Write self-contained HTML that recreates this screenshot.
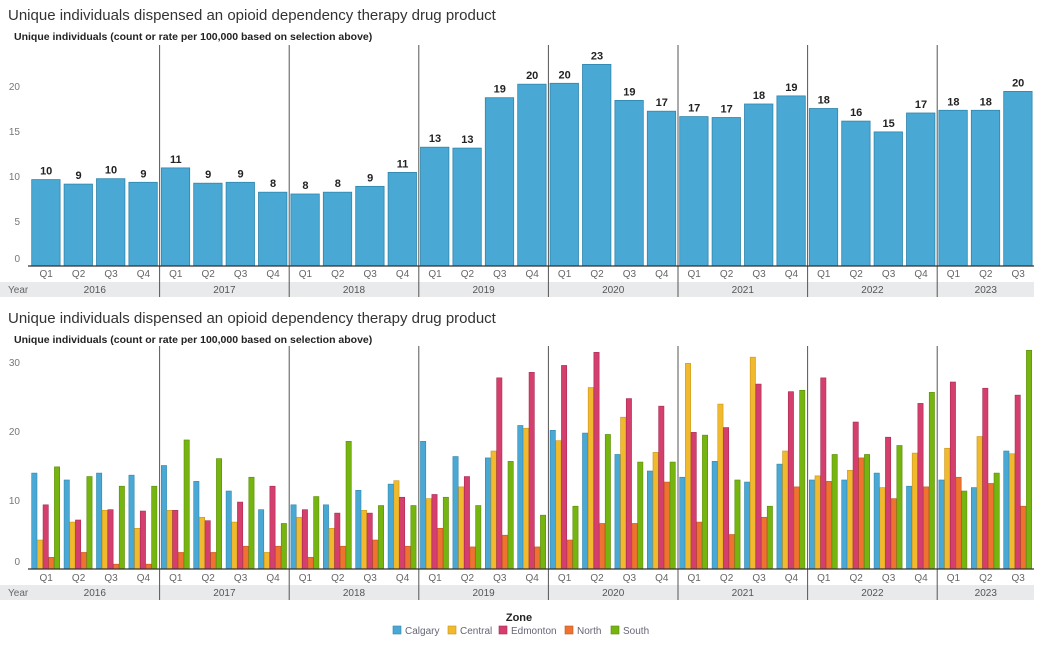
<!DOCTYPE html>
<html><head><meta charset="utf-8">
<style>
body{margin:0;background:#fff;width:1044px;height:651px;overflow:hidden;font-family:"Liberation Sans",sans-serif;}
svg{display:block}
</style></head>
<body>
<svg id="chart" width="1044" height="651" xmlns="http://www.w3.org/2000/svg" font-family="Liberation Sans, sans-serif"></svg>
<script>
const years = ["2016","2017","2018","2019","2020","2021","2022","2023"];
const quarters = ["Q1","Q2","Q3","Q4","Q1","Q2","Q3","Q4","Q1","Q2","Q3","Q4","Q1","Q2","Q3","Q4","Q1","Q2","Q3","Q4","Q1","Q2","Q3","Q4","Q1","Q2","Q3","Q4","Q1","Q2","Q3"];
const yearQuarterCounts = [4,4,4,4,4,4,4,3];
const totalValues = [9.6,9.1,9.7,9.3,10.9,9.2,9.3,8.2,8.0,8.2,8.85,10.4,13.2,13.1,18.7,20.2,20.3,22.4,18.4,17.2,16.6,16.5,18.0,18.9,17.5,16.1,14.9,17.0,17.3,17.3,19.4];
const totalLabels = ["10","9","10","9","11","9","9","8","8","8","9","11","13","13","19","20","20","23","19","17","17","17","18","19","18","16","15","17","18","18","20"];
const topTicks = [0,5,10,15,20];
const zones = ["Calgary","Central","Edmonton","North","South"];
const zoneColors = ["#4aa9d4","#f0b92e","#d43f6e","#ee7330","#76b510"];
const zoneStroke = ["#2f86ad","#c9951a","#a82a52","#c55720","#5a8d08"];
const calgary = [13.9,12.9,13.9,13.6,15.0,12.7,11.3,8.6,9.3,9.3,11.4,12.3,18.5,16.3,16.1,20.8,20.1,19.7,16.6,14.2,13.3,15.6,12.6,15.2,12.9,12.9,13.9,12.0,12.9,11.8,17.1];
const central = [4.2,6.8,8.5,5.9,8.5,7.5,6.8,2.4,7.5,5.9,8.5,12.8,10.2,11.9,17.1,20.4,18.6,26.3,22.0,16.9,29.8,23.9,30.7,17.1,13.5,14.3,11.8,16.8,17.5,19.2,16.7];
const edmonton = [9.3,7.1,8.6,8.4,8.5,7.0,9.7,12.0,8.6,8.1,8.1,10.4,10.8,13.4,27.7,28.5,29.5,31.4,24.7,23.6,19.8,20.5,26.8,25.7,27.7,21.3,19.1,24.0,27.1,26.2,25.2];
const north = [1.7,2.4,0.7,0.7,2.4,2.4,3.3,3.3,1.7,3.3,4.2,3.3,5.9,3.2,4.9,3.2,4.2,6.6,6.6,12.6,6.8,5.0,7.5,11.9,12.7,16.1,10.2,11.9,13.3,12.4,9.1];
const south = [14.8,13.4,12.0,12.0,18.7,16.0,13.3,6.6,10.5,18.5,9.2,9.2,10.4,9.2,15.6,7.8,9.1,19.5,15.5,15.5,19.4,12.9,9.1,25.9,16.6,16.6,17.9,25.6,11.3,13.9,31.7];
const zoneSeries = [calgary, central, edmonton, north, south];
const bottomTicks = [0,10,20,30];

const NS="http://www.w3.org/2000/svg";
const svg=document.getElementById('chart');
function mk(tag,attrs,parent,text){const e=document.createElementNS(NS,tag);for(const k in attrs)e.setAttribute(k,attrs[k]);if(text!==undefined)e.textContent=text;(parent||svg).appendChild(e);return e;}

const X0=30, STEP=32.4;
function xq(i){return X0+i*STEP;}

function drawFrame(g, cfg){
  // title
  let t=mk('text',{x:8,y:cfg.titleY,'font-size':15,fill:'#333'},g,"Unique individuals dispensed an opioid dependency therapy drug product");
  
  
  t=mk('text',{x:14,y:cfg.subY,'font-size':10.5,'font-weight':'bold',fill:'#222'},g,"Unique individuals (count or rate per 100,000 based on selection above)");
  
  
  // year band
  let band=mk('rect',{x:0,y:cfg.bandY,width:1034,height:15,fill:'#e9eaec'},g);
  
  
  t=mk('text',{x:8,y:cfg.bandY+11,'font-size':10,fill:'#666'},g,"Year");
  
  
  let idx=0;
  years.forEach((yr,k)=>{
    const n=yearQuarterCounts[k];
    const cx=(xq(idx)+xq(idx+n))/2;
    const yl=mk('text',{x:cx,y:cfg.bandY+11,'font-size':10,fill:'#555','text-anchor':'middle'},g,yr);
    
    
    if(k>0){
      const ln=mk('line',{x1:xq(idx),x2:xq(idx),y1:cfg.top,y2:cfg.bandY+15,stroke:'#555','stroke-width':1},g);
      
      
    }
    idx+=n;
  });
  quarters.forEach((q,i)=>{
    const ql=mk('text',{x:xq(i)+STEP/2,y:cfg.qY,'font-size':10,fill:'#666','text-anchor':'middle'},g,q);
    
    
  });
  cfg.ticks.forEach(v=>{
    const y=v===0?cfg.base-4:cfg.y(v)+4;
    const tl=mk('text',{x:20,y:y,'font-size':10,fill:'#777','text-anchor':'end'},g,String(v));
    
    
  });
}

// TOP CHART
const topG=mk('g',{});


const TB=266, TU=9.0;
function yTop(v){return TB-v*TU;}
drawFrame(topG,{titleY:20,subY:40,bandY:282,qY:277,top:45,base:TB,ticks:topTicks,y:yTop});
totalValues.forEach((v,i)=>{
  const r=mk('rect',{x:xq(i)+1.7,y:yTop(v),width:28.4,height:TB-yTop(v),fill:'#4aa9d4',stroke:'#2f86ad','stroke-width':0.8},topG);
  
  
  const l=mk('text',{x:xq(i)+STEP/2,y:yTop(v)-5,'font-size':11,'font-weight':'bold',fill:'#222','text-anchor':'middle'},topG,totalLabels[i]);
  
  
});
let ax=mk('line',{x1:X0-2,x2:1034,y1:TB,y2:TB,stroke:'#333','stroke-width':1.2},topG);



// BOTTOM CHART
const botG=mk('g',{});


const BB=569, BU=6.9;
function yBot(v){return BB-v*BU;}
drawFrame(botG,{titleY:323,subY:343,bandY:585,qY:581,top:346,base:BB,ticks:bottomTicks,y:yBot});
const BW=5.68;
zoneSeries.forEach((series,z)=>{
  series.forEach((v,i)=>{
    const r=mk('rect',{x:xq(i)+1.7+z*BW,y:yBot(v),width:BW-0.4,height:BB-yBot(v),fill:zoneColors[z],stroke:zoneStroke[z],'stroke-width':0.6},botG);
    
    
  });
});
ax=mk('line',{x1:X0-2,x2:1034,y1:BB,y2:BB,stroke:'#333','stroke-width':1.2},botG);



// LEGEND
const lg=mk('g',{});


const lt=mk('text',{x:519,y:621,'font-size':11,'font-weight':'bold',fill:'#222','text-anchor':'middle'},lg,"Zone");


const legX=[393,448,499,565,611];
zones.forEach((zn,z)=>{
  const e=mk('g',{},lg);
  
  
  mk('rect',{x:legX[z],y:626,width:8,height:8,fill:zoneColors[z],stroke:zoneStroke[z],'stroke-width':0.6},e);
  mk('text',{x:legX[z]+12,y:634,'font-size':10,fill:'#667'},e,zn);
});
</script>
</body></html>
